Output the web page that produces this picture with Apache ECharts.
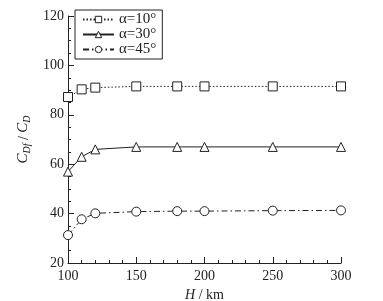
<!DOCTYPE html>
<html><head><meta charset="utf-8">
<script src="https://cdn.jsdelivr.net/npm/echarts@6/dist/echarts.min.js"></script>
<style>html,body{margin:0;padding:0;background:#fff}#c{width:383px;height:301px}</style>
</head><body><div id="c"></div>
<script>
const heights = [100, 110, 120, 150, 180, 200, 250, 300];
const ratio10 = [87.2, 90.3, 91, 91.5, 91.5, 91.5, 91.5, 91.5];
const ratio30 = [57, 63, 66, 67, 67, 67, 67, 67];
const ratio45 = [31.3, 37.7, 40.1, 40.8, 41, 41, 41.2, 41.3];
const seriesNames = ['α=10°', 'α=30°', 'α=45°'];

const font = 'Liberation Serif';
function pairs(v){ return heights.map((h,i)=>[h, v[i]]); }
function mk(name, data, symbol, ltype){
  return {
    name, type:'line', data: pairs(data), symbol, symbolSize: 9,
    itemStyle:{color:'#fff', borderColor:'#222', borderWidth:1},
    lineStyle:{color:'#222', width:1, type: ltype},
    emphasis:{disabled:true}
  };
}
const chart = echarts.init(document.getElementById('c'));
chart.setOption({
  animation:false,
  backgroundColor:'#fff',
  textStyle:{fontFamily:font},
  grid:{left:68, right:42, top:16, bottom:38, containLabel:false, outerBoundsMode:'none'},
  legend:{
    left:75, top:10, orient:'vertical', itemGap:0, itemWidth:31, itemHeight:8,
    padding:[2,6,2,7],
    borderColor:'#222', borderWidth:1, borderRadius:0,
    itemStyle:{borderWidth:1},
    textStyle:{fontFamily:font, fontSize:15, color:'#222', padding:[0,0,0,0]},
    data: seriesNames
  },
  xAxis:{
    type:'value', min:100, max:300, interval:50,
    axisLine:{lineStyle:{color:'#222'}},
    axisTick:{inside:true, length:6, lineStyle:{color:'#222'}},
    minorTick:{show:true, splitNumber:5, length:3, lineStyle:{color:'#222'}},
    splitLine:{show:false},
    axisLabel:{color:'#222', fontSize:14, fontFamily:font, margin:6},
    name:'{i|H} / km', nameLocation:'middle', nameGap:19,
    nameTextStyle:{color:'#222', fontSize:14, fontFamily:font,
      rich:{i:{fontStyle:'italic', fontSize:14, fontFamily:font, color:'#222'}}}
  },
  yAxis:{
    type:'value', min:20, max:120, interval:20,
    axisLine:{show:true, lineStyle:{color:'#222'}},
    axisTick:{show:true, inside:true, length:6, lineStyle:{color:'#222'}},
    minorTick:{show:true, splitNumber:4, length:3, lineStyle:{color:'#222'}},
    splitLine:{show:false},
    axisLabel:{color:'#222', fontSize:14, fontFamily:font, margin:4},
    name:'{i|C}{s|Df} / {i|C}{s|D}', nameLocation:'middle', nameGap:36, nameRotate:90,
    nameTextStyle:{color:'#222', fontSize:14, fontFamily:font,
      rich:{i:{fontStyle:'italic', fontSize:15, fontFamily:font, color:'#222', verticalAlign:'top'},
            s:{fontStyle:'italic', fontSize:10, fontFamily:font, color:'#222', verticalAlign:'bottom', padding:[6,0,0,0]}}}
  },
  series:[
    mk(seriesNames[0], ratio10, 'rect', [1.5,2]),
    mk(seriesNames[1], ratio30, 'triangle', 'solid'),
    mk(seriesNames[2], ratio45, 'circle', [6,3,1.5,3])
  ]
});
</script></body></html>
